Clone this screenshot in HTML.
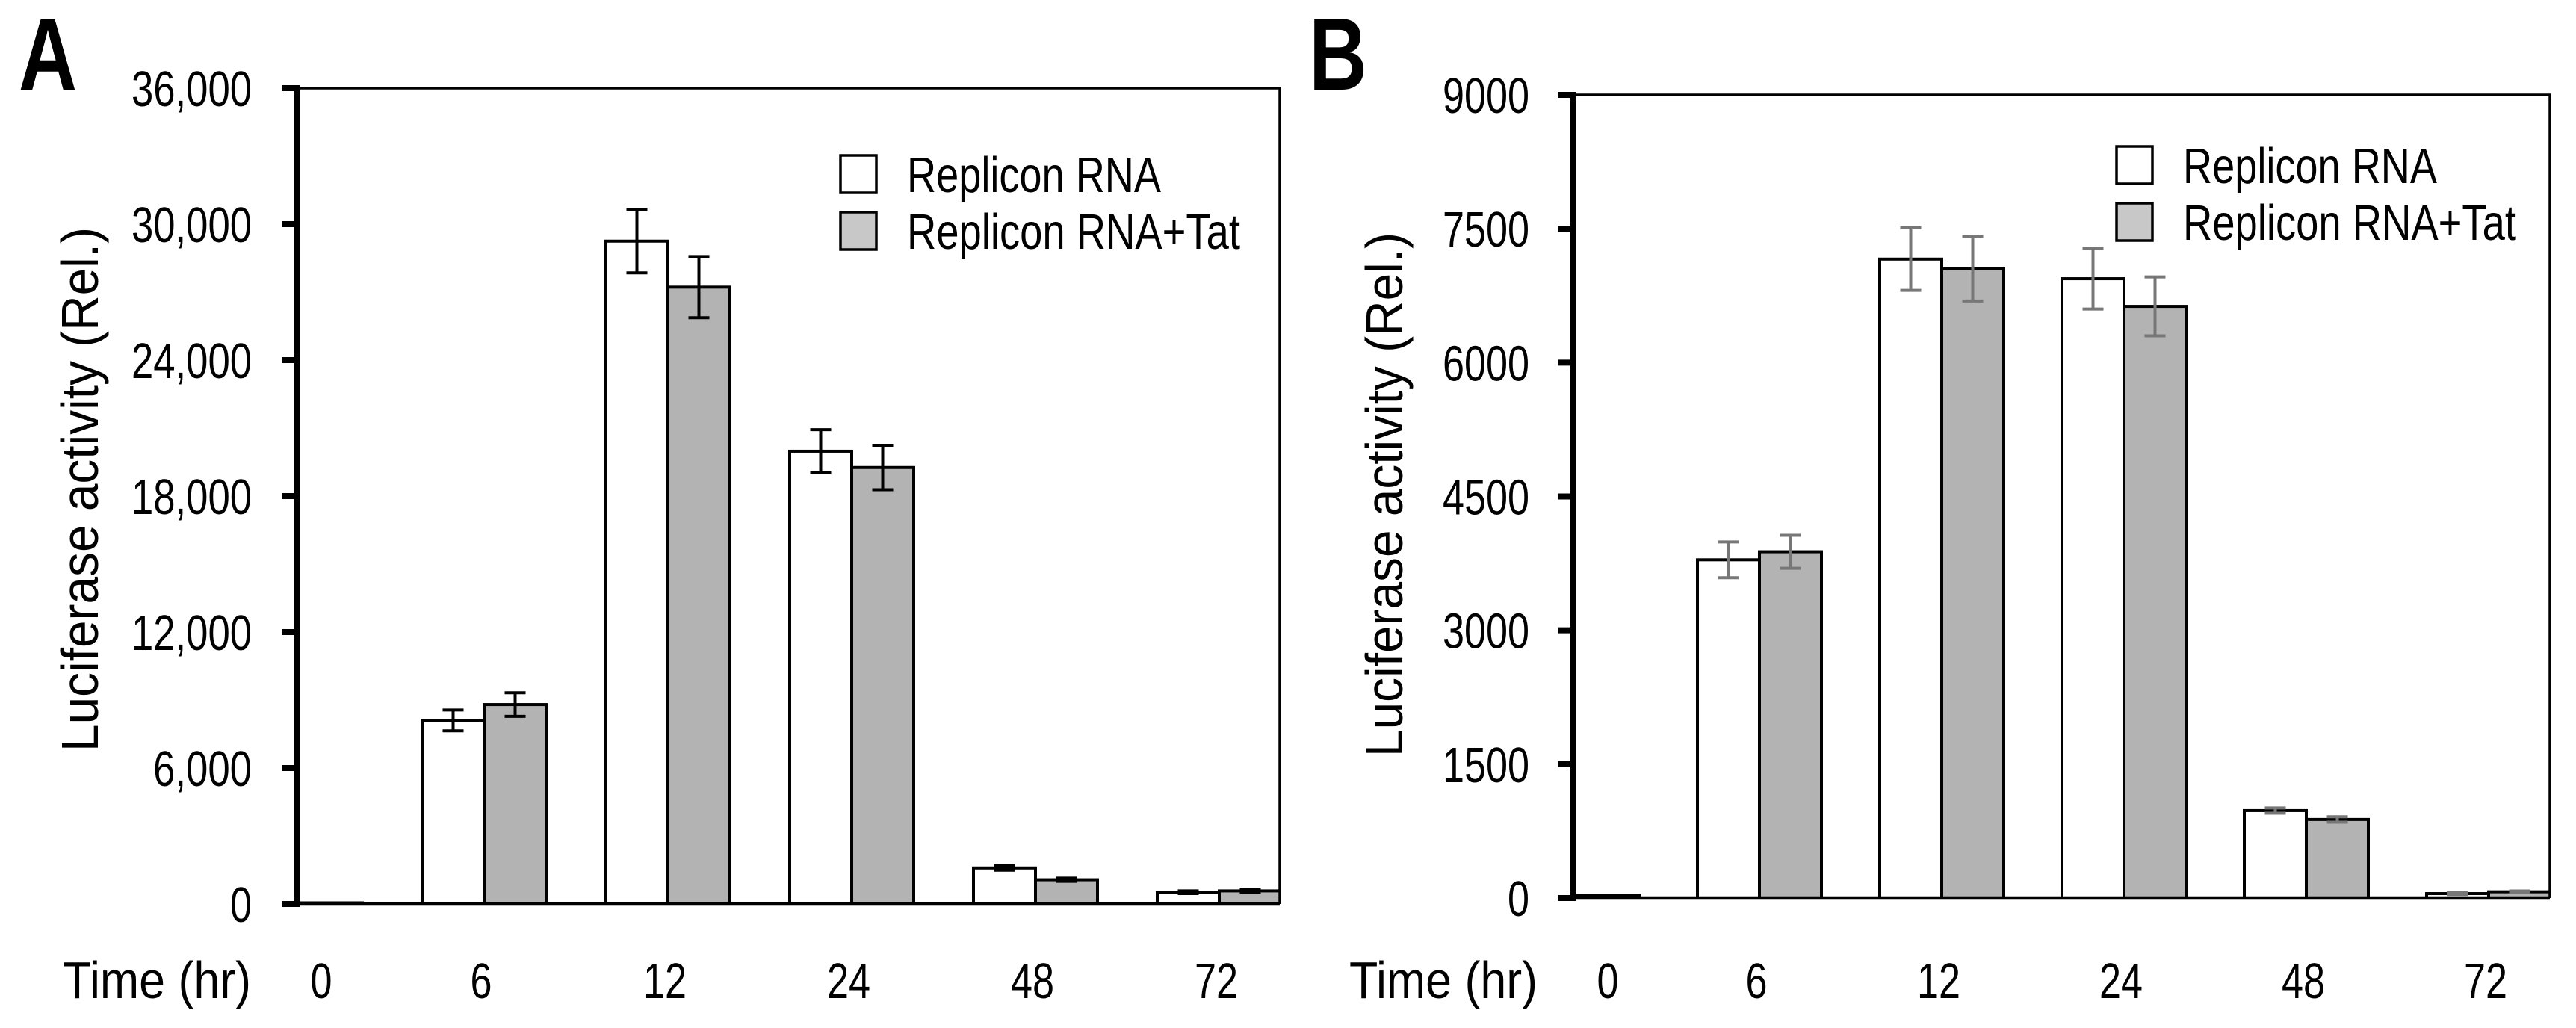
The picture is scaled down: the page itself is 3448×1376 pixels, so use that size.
<!DOCTYPE html>
<html><head><meta charset="utf-8"><style>
html,body{margin:0;padding:0;background:#fff;}
svg{display:block;font-family:"Liberation Sans",Arial,sans-serif;}
</style></head>
<body>
<svg id="fig" width="3448" height="1376" viewBox="0 0 3448 1376" xmlns="http://www.w3.org/2000/svg"></svg>
<script>
const categories = ["0","6","12","24","48","72"];
const seriesNames = ["Replicon RNA","Replicon RNA+Tat"];
const aRna = [50, 8100, 29250, 19980, 1590, 520];
const aRnaErr = [0, 460, 1400, 950, 100, 60];
const aTat = [50, 8800, 27220, 19260, 1070, 580];
const aTatErr = [0, 520, 1350, 980, 70, 60];
const aTicks = [0, 6000, 12000, 18000, 24000, 30000, 36000];
const aTickLabels = ["0","6,000","12,000","18,000","24,000","30,000","36,000"];
const bRna = [30, 3790, 7160, 6940, 980, 50];
const bRnaErr = [0, 200, 350, 340, 30, 10];
const bTat = [30, 3880, 7050, 6630, 880, 70];
const bTatErr = [0, 185, 360, 330, 30, 10];
const bTicks = [0, 1500, 3000, 4500, 6000, 7500, 9000];
const bTickLabels = ["0","1500","3000","4500","6000","7500","9000"];

const NS = "http://www.w3.org/2000/svg";
const svg = document.getElementById("fig");
function mk(tag, attrs, parent){
  const e = document.createElementNS(NS, tag);
  for (const k in attrs) e.setAttribute(k, attrs[k]);
  (parent||svg).appendChild(e);
  return e;
}
function labelWidth(s){ let w=0; for(const c of s){ w += (c===","||c===".")?16:29; } return w; }

function panel(cfg){
  const g = mk("g", {});
  
  
  const yS = v => cfg.y1 - v / cfg.max * (cfg.y1 - cfg.y0);
  const xS = i => cfg.c0 + i * cfg.step;
  // panel letter
  const L = mk("text", {x: cfg.letterX, y: 120, "font-size": 138, "font-weight": "bold", textLength: 78, lengthAdjust: "spacingAndGlyphs"}, g);
  L.textContent = cfg.letter;
  
  
  // clip
  const cp = mk("clipPath", {id: "clip" + cfg.id}, g);
  mk("rect", {x: cfg.x0, y: cfg.y0 - 200, width: cfg.x1 - cfg.x0, height: cfg.y1 - cfg.y0 + 200}, cp);
  const bars = mk("g", {"clip-path": "url(#clip" + cfg.id + ")"}, g);
  
  
  const bw = 83;
  const series = [[cfg.s1, cfg.e1, "#ffffff"], [cfg.s2, cfg.e2, "#b3b3b3"]];
  series.forEach((s, si) => {
    s[0].forEach((v, i) => {
      const left = xS(i) + (si === 0 ? -bw : 0);
      const top = yS(v);
      const r = mk("rect", {x: left, y: top, width: bw, height: cfg.y1 - top, fill: s[2], stroke: "#000", "stroke-width": 4}, bars);
      
      
      const err = s[1][i];
      if (err > 0) {
        const cx = left + bw / 2, ya = yS(v + err), yb = yS(v - err);
        const eg = mk("g", {stroke: cfg.errColor, "stroke-width": 4, fill: "none"}, bars);
        
        
        mk("line", {x1: cx, x2: cx, y1: ya, y2: yb}, eg);
        mk("line", {x1: cx - 14, x2: cx + 14, y1: ya, y2: ya}, eg);
        mk("line", {x1: cx - 14, x2: cx + 14, y1: yb, y2: yb}, eg);
      }
    });
  });
  // frame
  const fr = mk("path", {d: `M${cfg.x0} ${cfg.y0} H${cfg.x1} V${cfg.y1}`, fill: "none", stroke: "#000", "stroke-width": 3.5}, g);
  
  
  const xa = mk("line", {x1: cfg.x0, x2: cfg.x1, y1: cfg.y1, y2: cfg.y1, stroke: "#000", "stroke-width": 4.5}, g);
  
  
  const ya = mk("line", {x1: cfg.x0, x2: cfg.x0, y1: cfg.y0 - 4, y2: cfg.y1 + 4, stroke: "#000", "stroke-width": 8}, g);
  
  
  cfg.ticks.forEach((t, i) => {
    const y = yS(t);
    const tk = mk("line", {x1: cfg.x0 - 21, x2: cfg.x0, y1: y, y2: y, stroke: "#000", "stroke-width": 8}, g);
    
    
    const s = cfg.tickLabels[i];
    const tl = mk("text", {x: cfg.labR - labelWidth(s), y: y + 24, "font-size": 67, textLength: labelWidth(s), lengthAdjust: "spacingAndGlyphs"}, g);
    tl.textContent = s;
    
    
  });
  categories.forEach((c, i) => {
    const cx = i === 0 ? cfg.x0 + cfg.zeroOff : xS(i) - 4;
    const w = labelWidth(c);
    const xl = mk("text", {x: cx - w / 2, y: 1336, "font-size": 67, textLength: w, lengthAdjust: "spacingAndGlyphs"}, g);
    xl.textContent = c;
    
    
  });
  const tt = mk("text", {x: cfg.timeX, y: 1336, "font-size": 70, textLength: 252, lengthAdjust: "spacingAndGlyphs"}, g);
  tt.textContent = "Time (hr)";
  
  
  const yt = mk("text", {x: 0, y: 0, "font-size": 70, "text-anchor": "middle", textLength: 702, lengthAdjust: "spacingAndGlyphs", transform: `translate(${cfg.titleX},${cfg.titleY}) rotate(-90)`}, g);
  yt.textContent = "Luciferase activity (Rel.)";
  
  
  // legend
  const lg = mk("g", {}, g);
  
  
  [["#ffffff", seriesNames[0], 340], ["#c8c8c8", seriesNames[1], 446]].forEach((e, k) => {
    const by = cfg.legY + k * 76;
    const bx = mk("rect", {x: cfg.legX, y: by, width: 48, height: 50, fill: e[0], stroke: "#000", "stroke-width": 3.5}, lg);
    
    
    const lt = mk("text", {x: cfg.legX + 89, y: by + 49, "font-size": 67, textLength: e[2], lengthAdjust: "spacingAndGlyphs"}, lg);
    lt.textContent = e[1];
    
    
  });
}

panel({id: "a", letter: "A", letterX: 25, x0: 398, x1: 1713, y0: 118, y1: 1210, max: 36000,
  c0: 402, step: 246, s1: aRna, e1: aRnaErr, s2: aTat, e2: aTatErr, errColor: "#000",
  ticks: aTicks, tickLabels: aTickLabels, labR: 337, zeroOff: 32, timeX: 84,
  titleX: 131, titleY: 655, legX: 1125, legY: 208});
panel({id: "b", letter: "B", letterX: 1752, x0: 2106, x1: 3413, y0: 127, y1: 1202, max: 9000,
  c0: 2111, step: 244, s1: bRna, e1: bRnaErr, s2: bTat, e2: bTatErr, errColor: "#777",
  ticks: bTicks, tickLabels: bTickLabels, labR: 2047, zeroOff: 46, timeX: 1806,
  titleX: 1877, titleY: 662, legX: 2833, legY: 196});
</script>
</body></html>
